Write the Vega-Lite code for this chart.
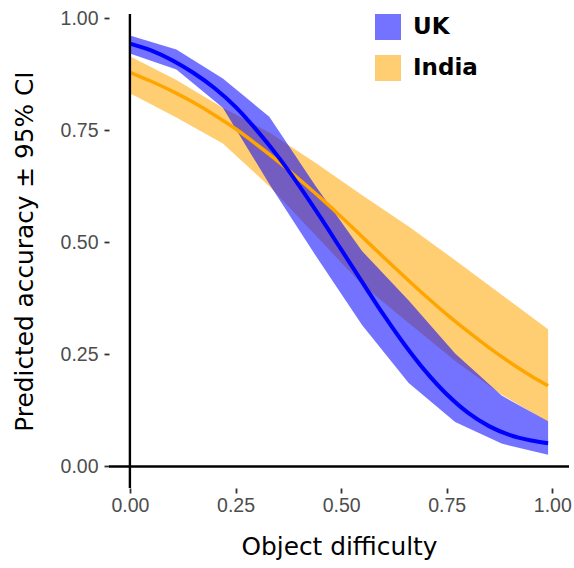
{
  "$schema": "https://vega.github.io/schema/vega-lite/v6.json",
  "autosize": "none",
  "width": 460,
  "height": 474,
  "padding": {"left": 109, "top": 14, "right": 5, "bottom": 80},
  "background": "white",
  "config": {
    "view": {"stroke": null},
    "axis": {
      "domain": false,
      "grid": false,
      "ticks": true,
      "tickColor": "#333333",
      "tickWidth": 1.8,
      "tickSize": 5,
      "labelFont": "Liberation Sans",
      "labelFontSize": 19.5,
      "labelColor": "#4D4D4D",
      "titleFont": "DejaVu Sans",
      "titleFontSize": 24.8,
      "titleFontWeight": "normal",
      "titleColor": "#000000"
    }
  },
  "datasets": {
    "ribbons": [
      {"country": "India", "difficulty": 0.00, "lo": 0.832, "hi": 0.915},
      {"country": "India", "difficulty": 0.11, "lo": 0.778, "hi": 0.862},
      {"country": "India", "difficulty": 0.22, "lo": 0.720, "hi": 0.800},
      {"country": "India", "difficulty": 0.33, "lo": 0.625, "hi": 0.745},
      {"country": "India", "difficulty": 0.44, "lo": 0.515, "hi": 0.677},
      {"country": "India", "difficulty": 0.55, "lo": 0.405, "hi": 0.605},
      {"country": "India", "difficulty": 0.66, "lo": 0.320, "hi": 0.535},
      {"country": "India", "difficulty": 0.77, "lo": 0.235, "hi": 0.460},
      {"country": "India", "difficulty": 0.88, "lo": 0.160, "hi": 0.383},
      {"country": "India", "difficulty": 0.99, "lo": 0.100, "hi": 0.306},
      {"country": "UK", "difficulty": 0.00, "lo": 0.921, "hi": 0.961},
      {"country": "UK", "difficulty": 0.11, "lo": 0.885, "hi": 0.930},
      {"country": "UK", "difficulty": 0.22, "lo": 0.800, "hi": 0.865},
      {"country": "UK", "difficulty": 0.33, "lo": 0.630, "hi": 0.780},
      {"country": "UK", "difficulty": 0.44, "lo": 0.470, "hi": 0.625},
      {"country": "UK", "difficulty": 0.55, "lo": 0.315, "hi": 0.480},
      {"country": "UK", "difficulty": 0.66, "lo": 0.186, "hi": 0.370},
      {"country": "UK", "difficulty": 0.77, "lo": 0.099, "hi": 0.252},
      {"country": "UK", "difficulty": 0.88, "lo": 0.051, "hi": 0.158},
      {"country": "UK", "difficulty": 0.99, "lo": 0.026, "hi": 0.101}
    ],
    "lines": [
      {"country": "India", "difficulty": 0.00, "accuracy": 0.879},
      {"country": "India", "difficulty": 0.05, "accuracy": 0.859},
      {"country": "India", "difficulty": 0.10, "accuracy": 0.837},
      {"country": "India", "difficulty": 0.15, "accuracy": 0.812},
      {"country": "India", "difficulty": 0.20, "accuracy": 0.784},
      {"country": "India", "difficulty": 0.25, "accuracy": 0.753},
      {"country": "India", "difficulty": 0.30, "accuracy": 0.718},
      {"country": "India", "difficulty": 0.35, "accuracy": 0.681},
      {"country": "India", "difficulty": 0.40, "accuracy": 0.641},
      {"country": "India", "difficulty": 0.45, "accuracy": 0.600},
      {"country": "India", "difficulty": 0.50, "accuracy": 0.557},
      {"country": "India", "difficulty": 0.55, "accuracy": 0.512},
      {"country": "India", "difficulty": 0.60, "accuracy": 0.467},
      {"country": "India", "difficulty": 0.65, "accuracy": 0.423},
      {"country": "India", "difficulty": 0.70, "accuracy": 0.380},
      {"country": "India", "difficulty": 0.75, "accuracy": 0.339},
      {"country": "India", "difficulty": 0.80, "accuracy": 0.301},
      {"country": "India", "difficulty": 0.85, "accuracy": 0.265},
      {"country": "India", "difficulty": 0.90, "accuracy": 0.232},
      {"country": "India", "difficulty": 0.95, "accuracy": 0.202},
      {"country": "India", "difficulty": 0.99, "accuracy": 0.180},
      {"country": "UK", "difficulty": 0.00, "accuracy": 0.943},
      {"country": "UK", "difficulty": 0.05, "accuracy": 0.928},
      {"country": "UK", "difficulty": 0.10, "accuracy": 0.906},
      {"country": "UK", "difficulty": 0.15, "accuracy": 0.878},
      {"country": "UK", "difficulty": 0.20, "accuracy": 0.844},
      {"country": "UK", "difficulty": 0.25, "accuracy": 0.802},
      {"country": "UK", "difficulty": 0.30, "accuracy": 0.750},
      {"country": "UK", "difficulty": 0.35, "accuracy": 0.692},
      {"country": "UK", "difficulty": 0.40, "accuracy": 0.627},
      {"country": "UK", "difficulty": 0.45, "accuracy": 0.557},
      {"country": "UK", "difficulty": 0.50, "accuracy": 0.484},
      {"country": "UK", "difficulty": 0.55, "accuracy": 0.411},
      {"country": "UK", "difficulty": 0.60, "accuracy": 0.339},
      {"country": "UK", "difficulty": 0.65, "accuracy": 0.272},
      {"country": "UK", "difficulty": 0.70, "accuracy": 0.212},
      {"country": "UK", "difficulty": 0.75, "accuracy": 0.161},
      {"country": "UK", "difficulty": 0.80, "accuracy": 0.120},
      {"country": "UK", "difficulty": 0.85, "accuracy": 0.090},
      {"country": "UK", "difficulty": 0.90, "accuracy": 0.070},
      {"country": "UK", "difficulty": 0.95, "accuracy": 0.058},
      {"country": "UK", "difficulty": 0.99, "accuracy": 0.052}
    ],
    "zeros": [{"zero": 0}]
  },
  "layer": [
    {
      "data": {"name": "ribbons"},
      "transform": [{"filter": "datum.country === 'India'"}],
      "mark": {"type": "area", "opacity": 0.55},
      "encoding": {
        "x": {
          "field": "difficulty", "type": "quantitative",
          "scale": {"domain": [-0.0495, 1.0395], "nice": false, "zero": false},
          "axis": {"values": [0, 0.25, 0.5, 0.75, 1], "format": ".2f", "labelPadding": 3, "title": "Object difficulty", "titlePadding": 20}
        },
        "y": {
          "field": "hi", "type": "quantitative",
          "scale": {"domain": [-0.048, 1.009], "nice": false, "zero": false},
          "axis": {"values": [0, 0.25, 0.5, 0.75, 1], "format": ".2f", "labelPadding": 6, "title": "Predicted accuracy ± 95% CI", "titlePadding": 23}
        },
        "y2": {"field": "lo"},
        "fill": {
          "field": "country", "type": "nominal",
          "scale": {"domain": ["UK", "India"], "range": ["#0000FF", "#FFA500"]},
          "legend": {
            "title": null,
            "orient": "none",
            "legendX": 266,
            "legendY": 0,
            "padding": 0,
            "symbolType": "square",
            "symbolSize": 676,
            "symbolOpacity": 0.55,
            "symbolStrokeWidth": 0,
            "labelFont": "DejaVu Sans",
            "labelFontWeight": "bold",
            "labelFontSize": 23,
            "labelColor": "#000000",
            "labelOffset": 12,
            "rowPadding": 15
          }
        }
      }
    },
    {
      "data": {"name": "ribbons"},
      "transform": [{"filter": "datum.country === 'UK'"}],
      "mark": {"type": "area", "opacity": 0.55},
      "encoding": {
        "x": {"field": "difficulty", "type": "quantitative"},
        "y": {"field": "hi", "type": "quantitative"},
        "y2": {"field": "lo"},
        "fill": {"field": "country", "type": "nominal"}
      }
    },
    {
      "data": {"name": "lines"},
      "transform": [{"filter": "datum.country === 'India'"}],
      "mark": {"type": "line", "strokeWidth": 3.5, "interpolate": "monotone"},
      "encoding": {
        "x": {"field": "difficulty", "type": "quantitative"},
        "y": {"field": "accuracy", "type": "quantitative"},
        "stroke": {
          "field": "country", "type": "nominal",
          "scale": {"domain": ["UK", "India"], "range": ["#0000FF", "#FFA500"]},
          "legend": null
        }
      }
    },
    {
      "data": {"name": "lines"},
      "transform": [{"filter": "datum.country === 'UK'"}],
      "mark": {"type": "line", "strokeWidth": 4, "interpolate": "monotone"},
      "encoding": {
        "x": {"field": "difficulty", "type": "quantitative"},
        "y": {"field": "accuracy", "type": "quantitative"},
        "stroke": {"field": "country", "type": "nominal", "legend": null}
      }
    },
    {
      "data": {"name": "zeros"},
      "mark": {"type": "rule", "color": "#000000", "strokeWidth": 2.4},
      "encoding": {"x": {"field": "zero", "type": "quantitative"}}
    },
    {
      "data": {"name": "zeros"},
      "mark": {"type": "rule", "color": "#000000", "strokeWidth": 2.4},
      "encoding": {"y": {"field": "zero", "type": "quantitative"}}
    }
  ]
}
